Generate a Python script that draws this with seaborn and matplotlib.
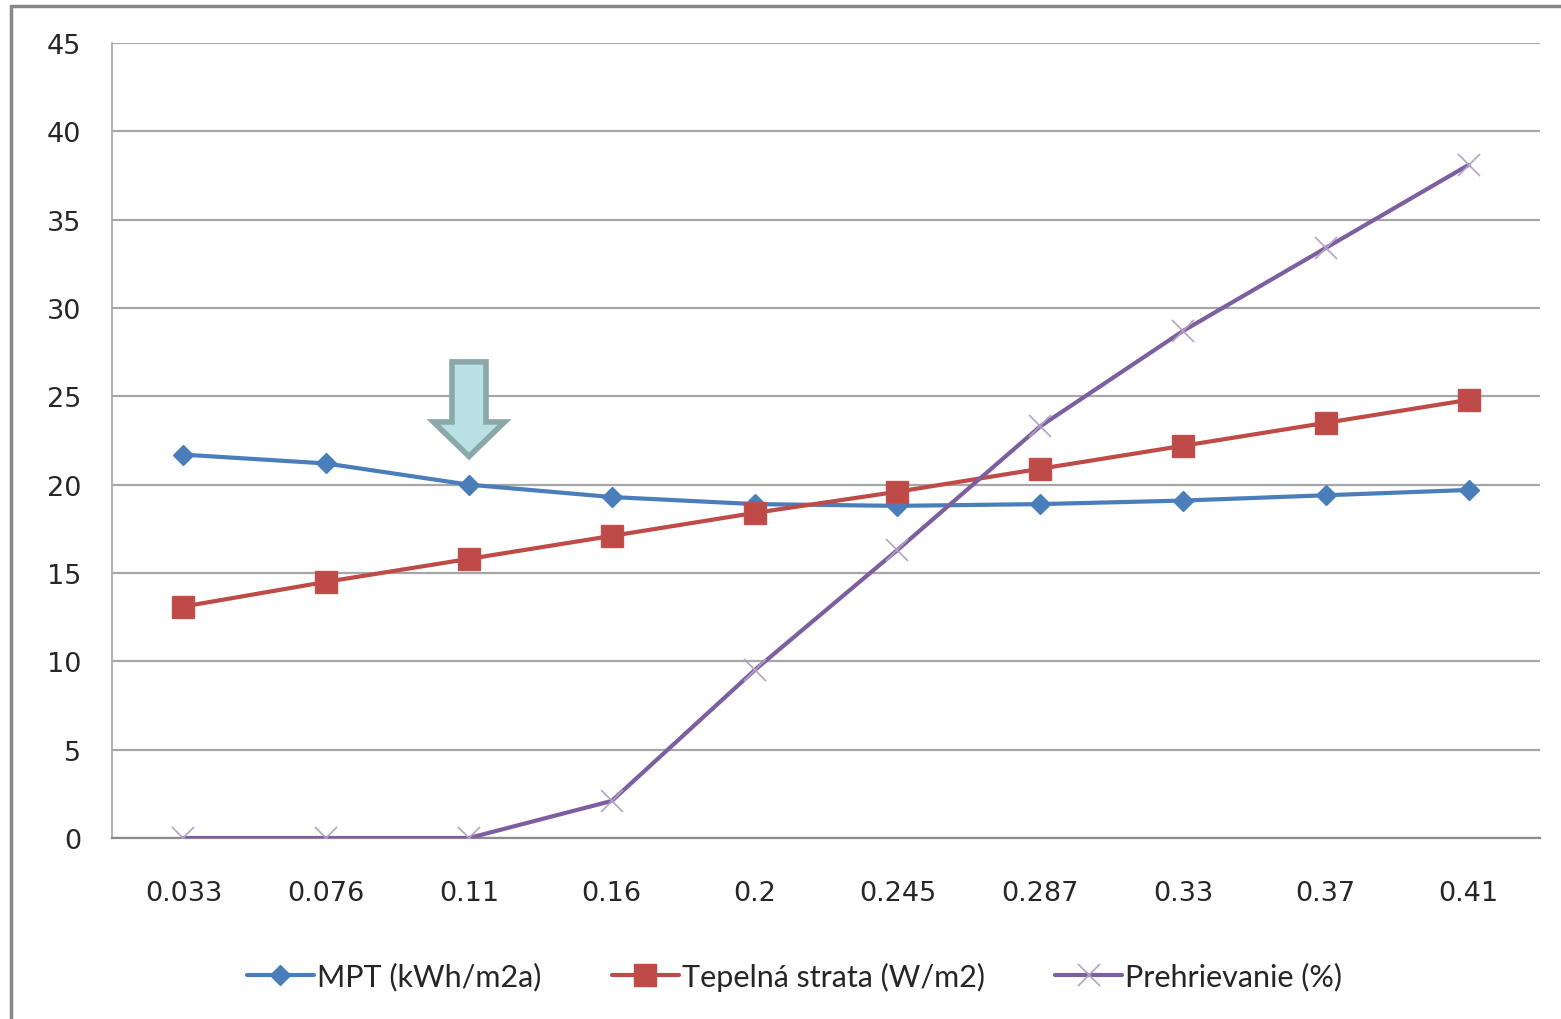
import numpy as np
import pandas as pd
import matplotlib
matplotlib.use("Agg")
import matplotlib.pyplot as plt
from matplotlib.patches import Polygon
from matplotlib.lines import Line2D
import seaborn as sns

# data
u_values = ["0.033", "0.076", "0.11", "0.16", "0.2", "0.245", "0.287", "0.33", "0.37", "0.41"]
mpt = [21.7, 21.2, 20.0, 19.3, 18.9, 18.8, 18.9, 19.1, 19.4, 19.7]
tepelna = [13.1, 14.5, 15.8, 17.1, 18.4, 19.6, 20.9, 22.2, 23.5, 24.8]
prehrievanie = [0, 0, 0, 2.1, 9.5, 16.3, 23.3, 28.7, 33.4, 38.1]
y_ticks = [0, 5, 10, 15, 20, 25, 30, 35, 40, 45]

labels = ["MPT (kWh/m2a)", "Tepelná strata (W/m2)", "Prehrievanie (%)"]
colors = ["#4a7ebb", "#be4b48", "#7d5fa0"]

df = pd.DataFrame({"pos": np.arange(len(u_values)),
                   labels[0]: mpt, labels[1]: tepelna, labels[2]: prehrievanie})
long = df.melt(id_vars="pos", var_name="serie", value_name="val")

sns.set_style("white")
plt.rcParams["font.family"] = ["DejaVu Sans"]

fig = plt.figure(figsize=(15.61, 10.20), dpi=100)
ax = fig.add_axes([112/1561, 181/1020, 1428/1561, 795/1020])

# gridlines
for v in y_ticks:
    ax.axhline(v, color="#a6a6a6", lw=1.6, zorder=0)

sns.lineplot(data=long, x="pos", y="val", hue="serie", palette=colors,
             lw=3, legend=False, ax=ax, zorder=3)

# markers
ax.plot(df["pos"], mpt, ls="none", marker="D", ms=10, color=colors[0], zorder=4)
ax.plot(df["pos"], tepelna, ls="none", marker="s", ms=16, color=colors[1],
        mec="#c0504d", zorder=4)
ax.plot(df["pos"], prehrievanie, ls="none", marker="x", ms=16, mew=1.2,
        color="#b3a2c7", zorder=4)

ax.set_xlim(-0.5, len(u_values) - 0.5)
ax.set_ylim(0, 45)
ax.set_yticks(y_ticks)
ax.set_xticks(df["pos"])
ax.set_xticklabels(u_values)
ax.set_xticks(np.arange(-0.5, len(u_values)), minor=True)
ax.tick_params(axis="x", which="major", length=0, pad=30, labelsize=19.5)
ax.tick_params(axis="x", which="minor", length=8, width=1.5, color="#8c8c8c", direction="out")
ax.tick_params(axis="y", length=8, width=1.5, color="#8c8c8c", direction="out",
               pad=14, labelsize=19.5)
ax.set_xlabel("")
ax.set_ylabel("")
for s in ["top", "right"]:
    ax.spines[s].set_visible(False)
ax.spines["left"].set_color("#a6a6a6")
ax.spines["left"].set_linewidth(1.2)
ax.spines["bottom"].set_color("#8c8c8c")
ax.spines["bottom"].set_linewidth(1.6)

# arrow pointing to the chosen value
arr_x = 2
shaft_hw, head_hw = 0.119, 0.249
arr_top, head_base, arr_tip = 26.95, 23.55, 21.6
arrow = Polygon([(arr_x - shaft_hw, arr_top), (arr_x + shaft_hw, arr_top),
                 (arr_x + shaft_hw, head_base), (arr_x + head_hw, head_base),
                 (arr_x, arr_tip), (arr_x - head_hw, head_base),
                 (arr_x - shaft_hw, head_base)],
                closed=True, facecolor="#b9e0e3", edgecolor="#8aa8a8", lw=4, zorder=5)
ax.add_patch(arrow)

# legend
handles = [
    Line2D([], [], color=colors[0], lw=3, marker="D", ms=10),
    Line2D([], [], color=colors[1], lw=3, marker="s", ms=16),
    Line2D([], [], color=colors[2], lw=3, marker="x", ms=16, mec="#b3a2c7", mew=1.2),
]
fig.legend(handles, labels, loc="center", bbox_to_anchor=(0.509, 1 - 977/1020),
           ncol=3, frameon=False, handlelength=2.2, handletextpad=0.1,
           columnspacing=2.3, prop={"family": "Lato", "size": 22})

# outer chart border
fig.add_artist(Line2D([11/1561, 1], [1 - 7/1020, 1 - 7/1020], color="#888888", lw=2.5,
                      transform=fig.transFigure))
fig.add_artist(Line2D([11/1561, 11/1561], [0, 1 - 7/1020], color="#888888", lw=2.5,
                      transform=fig.transFigure))

fig.savefig("out.png", dpi=100)
